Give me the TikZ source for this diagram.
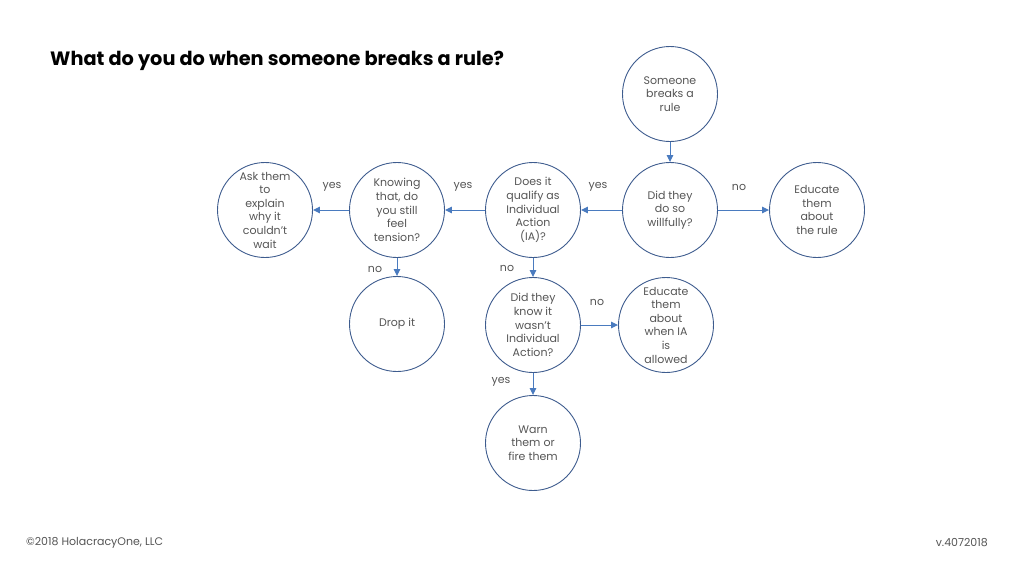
\documentclass[tikz,border=0pt]{standalone}
\usepackage{fontspec}
\setmainfont{Poppins}
\usetikzlibrary{arrows.meta}
\definecolor{ring}{HTML}{3E5C8E}
\definecolor{arrowc}{HTML}{4A7BBF}
\definecolor{txt}{HTML}{555555}
\begin{document}
\begin{tikzpicture}[x=1pt,y=-1pt,
  bub/.style={circle, draw=ring, line width=0.9pt, minimum size=95pt, inner sep=0pt, align=center,
    font=\fontsize{11}{13.6}\selectfont, text=txt},
  lab/.style={font=\fontsize{11}{13}\selectfont, text=txt, inner sep=0pt},
  arr/.style={draw=arrowc, line width=1pt, -{Triangle[length=7pt,width=6.5pt]}}]
\useasboundingbox (0,0) rectangle (1024,574);
\node[anchor=west, inner sep=0pt, font=\fontsize{19.3}{21}\selectfont\bfseries] (title) at (50,61) {What do you do when someone breaks a rule?};

\node[bub] (start) at (670,94) {Someone\\breaks a\\rule};
\node[bub] (will) at (670,210) {Did they\\do so\\willfully?};
\node[bub] (edu1) at (817,210) {Educate\\them\\about\\the rule};
\node[bub] (qual) at (533,210) {Does it\\qualify as\\Individual\\Action\\(IA)?};
\node[bub] (know) at (397,210) {Knowing\\that, do\\you still\\feel\\tension?};
\node[bub] (ask) at (265,210) {Ask them\\to\\explain\\why it\\couldn't\\wait};
\node[bub] (drop) at (397,324) {Drop it};
\node[bub] (didk) at (533,325) {Did they\\know it\\wasn't\\Individual\\Action?};
\node[bub] (edu2) at (666,325) {Educate\\them\\about\\when IA\\is\\allowed};
\node[bub] (warn) at (533,443) {Warn\\them or\\fire them};

\draw[arr] (start) -- (will);
\draw[arr] (will) -- (edu1);
\draw[arr] (will) -- (qual);
\draw[arr] (qual) -- (know);
\draw[arr] (know) -- (ask);
\draw[arr] (know) -- (drop);
\draw[arr] (qual) -- (didk);
\draw[arr] (didk) -- (edu2);
\draw[arr] (didk) -- (warn);

\node[lab] (l1) at (598,187) {yes};
\node[lab] (l2) at (739,187) {no};
\node[lab] (l3) at (463,187) {yes};
\node[lab] (l4) at (332,187) {yes};
\node[lab] (l5) at (375,269) {no};
\node[lab] (l6) at (507,268) {no};
\node[lab] (l7) at (597,302) {no};
\node[lab] (l8) at (501,382) {yes};

\node[anchor=west, inner sep=0pt, font=\fontsize{11}{12}\selectfont, text=txt] (copy) at (26,543) {©2018 HolacracyOne, LLC};
\node[anchor=east, inner sep=0pt, font=\fontsize{11}{12}\selectfont, text=txt] (ver) at (988,543) {v.4072018};
\end{tikzpicture}
\end{document}
